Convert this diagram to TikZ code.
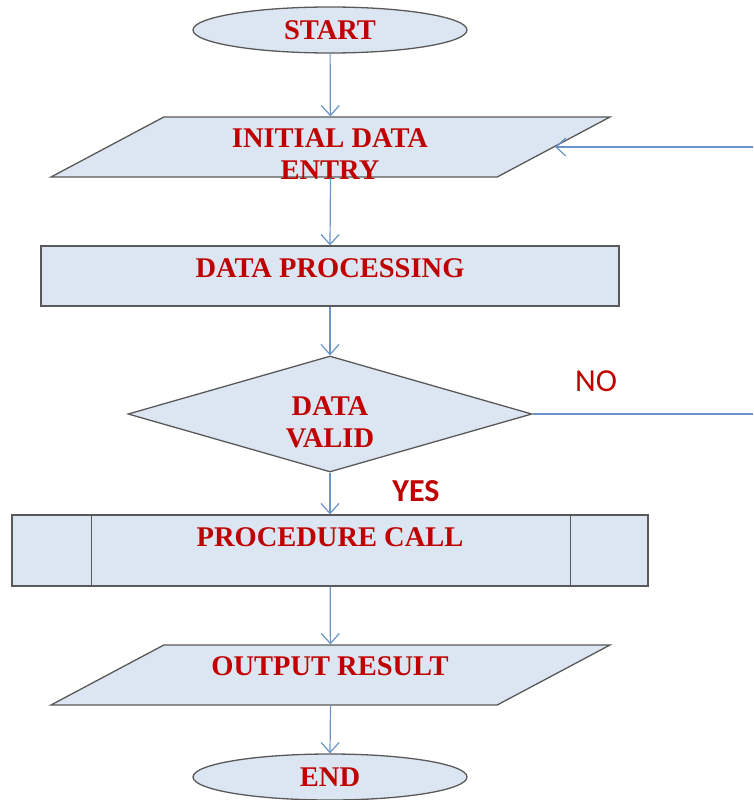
\documentclass[tikz,border=0pt]{standalone}
\usepackage{fontspec}
\setmainfont{Liberation Serif}
\newfontfamily\branchfont{Carlito}
\usetikzlibrary{shapes.geometric,arrows.meta}
\definecolor{boxfill}{HTML}{DCE6F2}
\definecolor{boxline}{HTML}{595959}
\definecolor{flowline}{HTML}{6A93C8}
\definecolor{boxtext}{HTML}{C00000}

\begin{document}
\begin{tikzpicture}[x=1pt,y=-1pt,
  every node/.style={font=\fontsize{28.5}{32}\selectfont\bfseries, text=boxtext},
  block/.style={draw=boxline, line width=1.3pt, fill=boxfill, inner sep=0pt},
  term/.style={block, ellipse, minimum width=274, minimum height=46},
  io/.style={block, trapezium, inner xsep=2pt, inner ysep=30pt, trapezium stretches body=true,
    trapezium left angle=28, trapezium right angle=152, minimum width=559},
  proc/.style={block, rectangle, minimum width=578, minimum height=60},
  call/.style={block, rectangle, minimum width=636, minimum height=71},
  decide/.style={block, diamond, inner sep=2pt, minimum width=404, minimum height=116},
  flow/.style={draw=flowline, line width=1.2pt, -{Straight Barb[length=10pt,width=18pt]}},
  branch/.style={font=\branchfont\fontsize{32}{36}\selectfont},
  ]
  \useasboundingbox (0,0) rectangle (753,800);

  % shapes
  \node[term] (start) at (330,30) {START};
  \node[io] (entry) at (330.5,147) {};
  \node[align=center] (entrytxt) at (330,154) {INITIAL DATA\\ENTRY};
  \node[proc] (process) at (330,276) {};
  \node (processtxt) at (330,268) {DATA PROCESSING};
  \node[decide] (valid) at (330,414) {};
  \node[align=center] (validtxt) at (330,422) {DATA\\VALID};
  \node[call] (procall) at (330,550.5) {};
  \draw[boxline, line width=1.3pt] ([xshift=80pt]procall.north west) -- ([xshift=80pt]procall.south west);
  \draw[boxline, line width=1.3pt] ([xshift=-78pt]procall.north east) -- ([xshift=-78pt]procall.south east);
  \node (procalltxt) at (330,537) {PROCEDURE CALL};
  \node[io] (output) at (330.5,675) {};
  \node (outputtxt) at (330,666) {OUTPUT RESULT};
  \node[term] (stop) at (330,777) {END};

  % branch labels
  \node[branch] (no) at (596,381) {NO};
  \node[branch, font=\branchfont\bfseries\fontsize{32}{36}\selectfont] (yes) at (416,491) {YES};

  % connectors
  \draw[flow] (start) -- (entry);
  \draw[flow] (entry.south) -- (process.north);
  \draw[flow] (process) -- (valid);
  \draw[flow] (valid) -- (procall);
  \draw[flow] (procall) -- (output);
  \draw[flow] (output.south) -- (stop.north);

  % loop back
  \coordinate (noright) at (753,414);
  \coordinate (backright) at (753,147);
  \draw[flow, -] (valid.east) -- (noright);
  \draw[flow] (backright) -- (entry.right side);
\end{tikzpicture}
\end{document}
